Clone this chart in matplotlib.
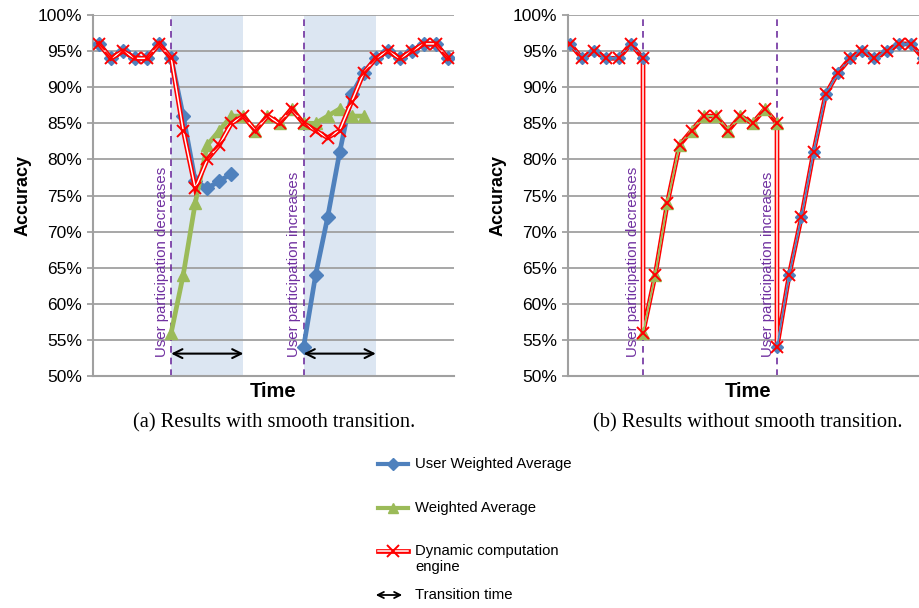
import matplotlib.pyplot as plt
from matplotlib.lines import Line2D
from matplotlib.patches import FancyArrowPatch

plt.rcParams.update({
    "font.family": ["Liberation Sans", "DejaVu Sans"],
    "font.size": 12.5,
    "figure.dpi": 100,
})

W, H = 920, 608
nan = float("nan")

BLUE = "#4F81BD"
GREEN = "#9BBB59"
RED = "#FF0000"
PURPLE = "#7030A0"
SHADE = "#DCE6F2"
GRID = "#A0A0A0"

STEPS = list(range(30))
DROP = 6        # user participation decreases
RISE = 17       # user participation increases
TRANSITION = 6  # length of smooth transition (steps)

# (a) with smooth transition
USER_A = [96, 94, 95, 94, 94, 96, 94, 86, 77, 76, 77, 78,
          nan, nan, nan, nan, nan,
          54, 64, 72, 81, 89, 92, 94, 95, 94, 95, 96, 96, 94]
WEIGHTED_A = [nan] * 6 + [56, 64, 74, 82, 84, 86, 86, 84, 86, 85, 87,
                          85, 85, 86, 87, 86, 86] + [nan] * 7
DYNAMIC_A = [96, 94, 95, 94, 94, 96, 94, 84, 76, 80, 82, 85, 86, 84, 86,
             85, 87, 85, 84, 83, 84, 88, 92, 94, 95, 94, 95, 96, 96, 94]

# (b) without smooth transition
USER_B = [96, 94, 95, 94, 94, 96, 94] + [nan] * 10 + \
         [54, 64, 72, 81, 89, 92, 94, 95, 94, 95, 96, 96, 94]
WEIGHTED_B = [nan] * 6 + [56, 64, 74, 82, 84, 86, 86, 84, 86, 85, 87, 85] + [nan] * 12
# dynamic engine switches instantly -> vertical jumps at DROP and RISE
DYNAMIC_B_X = STEPS[:DROP + 1] + STEPS[DROP:RISE + 1] + STEPS[RISE:]
DYNAMIC_B = USER_B[:DROP + 1] + WEIGHTED_B[DROP:RISE + 1] + USER_B[RISE:]


def style_axes(ax, xlim):
    ax.set_xlim(*xlim)
    ax.set_ylim(50, 100)
    ticks = list(range(50, 101, 5))
    ax.set_yticks(ticks)
    ax.set_yticklabels([f"{t}%" for t in ticks])
    ax.set_xticks([])
    ax.grid(axis="y", color=GRID, linewidth=1.3)
    ax.set_axisbelow(True)
    for s in ["top", "right"]:
        ax.spines[s].set_visible(False)
    for s in ["left", "bottom"]:
        ax.spines[s].set_color(GRID)
        ax.spines[s].set_linewidth(1.5)
    ax.tick_params(axis="y", length=4.5, width=1.3, color=GRID, pad=3.5, labelsize=12.5)
    ax.set_xlabel("Time", fontweight="bold", fontsize=14.5, labelpad=4)
    ax.set_ylabel("Accuracy", fontweight="bold", fontsize=13, labelpad=4)


def event_lines(ax, xdec, xinc):
    for x, txt_x, label in [(DROP, xdec, "User participation decreases"),
                            (RISE, xinc, "User participation increases")]:
        ax.axvline(x, color=PURPLE, linestyle=(0, (4, 3)), linewidth=1.2, zorder=2)
        ax.text(txt_x, 52.7, label, rotation=90, ha="right", va="bottom",
                color=PURPLE, fontsize=10.8, zorder=2)


def red_double(ax, x, y, z):
    ax.plot(x, y, color=RED, linewidth=3.4, zorder=z, solid_joinstyle="miter")
    ax.plot(x, y, color="white", linewidth=1.1, zorder=z + 0.1)


fig = plt.figure(figsize=(W / 100, H / 100))

# ---- (a) smooth transition
ax1 = fig.add_axes([93 / W, 1 - 376 / H, 361 / W, 361 / H])
for start in (DROP, RISE):
    ax1.axvspan(start, start + TRANSITION, color=SHADE, zorder=0, linewidth=0)
ax1.plot(STEPS, USER_A, color=BLUE, linewidth=3.4, marker="D", markersize=7, zorder=3)
ax1.plot(STEPS, WEIGHTED_A, color=GREEN, linewidth=3.4, marker="^", markersize=8.5, zorder=3)
red_double(ax1, STEPS, DYNAMIC_A, 4)
ax1.plot(STEPS, DYNAMIC_A, linestyle="none", marker="x", markersize=9,
         markeredgewidth=1.4, color=RED, zorder=5)
event_lines(ax1, 5.8, 16.8)
for start in (DROP, RISE):
    ax1.annotate("", xy=(start, 53.1), xytext=(start + TRANSITION, 53.1),
                 arrowprops=dict(arrowstyle="<->", color="black", lw=1.5,
                                 mutation_scale=16, shrinkA=0, shrinkB=0), zorder=6)
style_axes(ax1, (-0.5, 29.5))

# ---- (b) no smooth transition
ax2 = fig.add_axes([568 / W, 1 - 376 / H, 361 / W, 361 / H])
red_double(ax2, DYNAMIC_B_X, DYNAMIC_B, 3)
ax2.plot(STEPS, USER_B, color=BLUE, linewidth=1.3, zorder=3.3)
ax2.plot(STEPS, WEIGHTED_B, color=GREEN, linewidth=1.3, zorder=3.3)
ax2.plot(STEPS, USER_B, linestyle="none", marker="D", markersize=6.5, color=BLUE, zorder=4)
ax2.plot(STEPS, WEIGHTED_B, linestyle="none", marker="^", markersize=8, color=GREEN, zorder=4)
ax2.plot(DYNAMIC_B_X, DYNAMIC_B, linestyle="none", marker="x", markersize=9,
         markeredgewidth=1.4, color=RED, zorder=5)
event_lines(ax2, 5.75, 16.8)
style_axes(ax2, (-0.16, 29.48))

# captions
fig.text(274 / W, 1 - 423 / H, "(a) Results with smooth transition.",
         ha="center", va="center", family="Liberation Serif", fontsize=14.8)
fig.text(748 / W, 1 - 423 / H, "(b) Results without smooth transition.",
         ha="center", va="center", family="Liberation Serif", fontsize=14.8)


# legend, drawn by hand in figure pixels
def px(x, y):
    return x / W, 1 - y / H


def leg_line(y, **kw):
    (x0, yy), (x1, _) = px(378, y), px(408, y)
    fig.add_artist(Line2D([x0, x1], [yy, yy], transform=fig.transFigure, **kw))


def leg_mark(y, **kw):
    x, yy = px(393, y)
    fig.add_artist(Line2D([x], [yy], transform=fig.transFigure, linestyle="none", **kw))


leg_line(464, color=BLUE, linewidth=3)
leg_mark(464, marker="D", markersize=6, color=BLUE)
leg_line(508, color=GREEN, linewidth=3)
leg_mark(508, marker="^", markersize=7, color=GREEN)
leg_line(551, color=RED, linewidth=3.4)
leg_line(551, color="white", linewidth=1.1)
leg_mark(551, marker="x", markersize=9, markeredgewidth=1.4, color=RED)
fig.add_artist(FancyArrowPatch(px(373, 595), px(405, 595), transform=fig.transFigure,
                               arrowstyle="<->", mutation_scale=11, color="black", lw=1.3))

for y, label in [(464, "User Weighted Average"), (508, "Weighted Average"),
                 (559, "Dynamic computation\nengine"), (595, "Transition time")]:
    fig.text(*px(415, y), label, ha="left", va="center", fontsize=10.7, linespacing=1.15)

fig.savefig("out.png", dpi=100)
